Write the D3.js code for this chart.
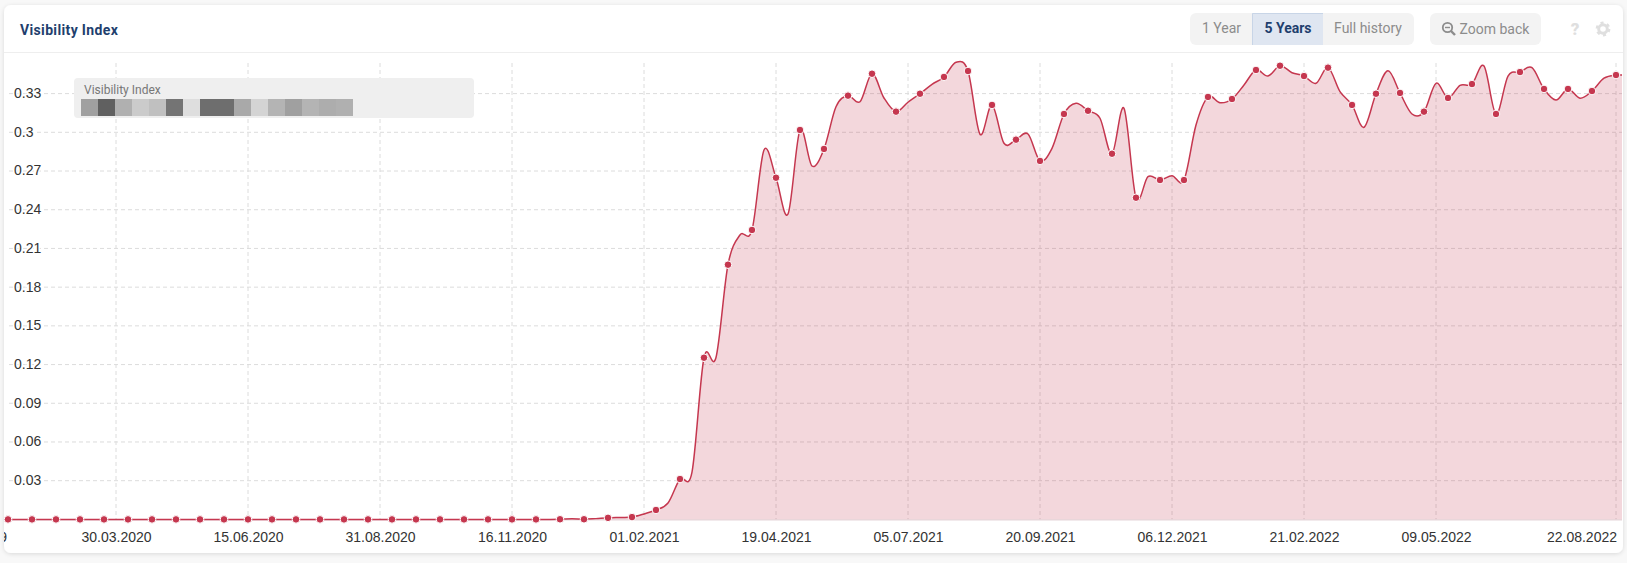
<!DOCTYPE html>
<html>
<head>
<meta charset="utf-8">
<title>Visibility Index</title>
<script src="https://cdn.jsdelivr.net/npm/d3@7"></script>
<style>
    html, body { margin: 0; padding: 0; background: #f8f8f8; overflow: hidden; }
    svg { display: block; }
    .ui { font-family: Roboto, sans-serif; font-size: 14px; }
    .tick text { font-family: "Liberation Sans", Arial, sans-serif; font-size: 14px; fill: #333; }
</style>
</head>
<body>
<svg id="chart"></svg>
<script>
const WIDTH = 1627;
const HEIGHT = 563;

const PLOT_LEFT = 4;
const PLOT_RIGHT = 1622;
const PLOT_TOP = 63;
const PLOT_BOTTOM = 519.4;

const RED = '#c5374f';

// weekly samples, one per Monday, first one is 20.01.2020 and last one 29.08.2022
const firstWeek = new Date(Date.UTC(2020, 0, 20));
const lastWeek = new Date(Date.UTC(2022, 7, 29));

const zeroWeeks = new Array(47).fill(0);
const risingWeeks = [
    0.0001, 0.0006, 0.0001, 0.0006, 0.0012, 0.0015, 0.0018, 0.0042, 0.0073, 0.0127, 0.0313, 0.0367,
    0.1253, 0.1255, 0.1974, 0.2204, 0.2243, 0.2863, 0.2648, 0.2367, 0.3018, 0.2739, 0.2871, 0.3198,
    0.3284, 0.3237, 0.3454, 0.3266, 0.316, 0.3233, 0.3299, 0.3372, 0.3429, 0.3543, 0.3475, 0.2985,
    0.3212, 0.2915, 0.2943, 0.2987, 0.2778, 0.2876, 0.3142, 0.3225, 0.3167, 0.3109, 0.2834, 0.3186,
    0.2493, 0.2656, 0.263, 0.2664, 0.263, 0.3057, 0.3274, 0.3229, 0.3258, 0.3367, 0.3483, 0.3436,
    0.3516, 0.3462, 0.3436, 0.338, 0.3501, 0.3315, 0.3212, 0.3039, 0.3299, 0.3477, 0.3305, 0.3142,
    0.316, 0.338, 0.3266, 0.3364, 0.3374, 0.3514, 0.3142, 0.3436, 0.3467, 0.3501, 0.3336, 0.325,
    0.3336, 0.3264, 0.332, 0.3419, 0.3444, 0.344
];
const visibilityValues = zeroWeeks.concat(risingWeeks);

const yTicks = [0.03, 0.06, 0.09, 0.12, 0.15, 0.18, 0.21, 0.24, 0.27, 0.3, 0.33];
const xTickLabels = [
    '30.12.2019', '30.03.2020', '15.06.2020', '31.08.2020', '16.11.2020', '01.02.2021',
    '19.04.2021', '05.07.2021', '20.09.2021', '06.12.2021', '21.02.2022', '09.05.2022', '22.08.2022'
];

const rangeLabels = ['1 Year', '5 Years', 'Full history'];
const legendPixels = [
    '#a0a0a0', '#606060', '#b0b0b0', '#cbcbcb', '#c0c0c0', '#747474', '#dedede', '#6e6e6e',
    '#6e6e6e', '#a9a9a9', '#d4d4d4', '#b4b4b4', '#a0a0a0', '#b4b4b4', '#adadad', '#b0b0b0'
];

const parseTick = d3.utcParse('%d.%m.%Y');
const formatTick = d3.utcFormat('%d.%m.%Y');

const weeks = d3.utcMonday.range(firstWeek, d3.utcDay.offset(lastWeek, 1));
const series = weeks.map((date, i) => ({ date, value: visibilityValues[i] }));

const xScale = d3.scaleUtc().domain([firstWeek, lastWeek]).range([-4, 1628]);
const yScale = d3.scaleLinear().domain([0, 0.33]).range([PLOT_BOTTOM, 93.6]);

const svg = d3.select('#chart').attr('width', WIDTH).attr('height', HEIGHT);

const defs = svg.append('defs');
defs.append('clipPath').attr('id', 'plot-clip')
    .append('rect')
    .attr('x', PLOT_LEFT)
    .attr('y', 53)
    .attr('width', PLOT_RIGHT - PLOT_LEFT)
    .attr('height', 497);

const shadow = defs.append('filter').attr('id', 'card-shadow')
    .attr('x', '-2%').attr('y', '-5%').attr('width', '104%').attr('height', '110%');
shadow.append('feDropShadow')
    .attr('dx', 0).attr('dy', 1).attr('stdDeviation', 2)
    .attr('flood-color', '#000').attr('flood-opacity', 0.12);

// card and header
svg.append('rect')
    .attr('x', 4).attr('y', 5)
    .attr('width', 1619).attr('height', 548)
    .attr('rx', 7)
    .attr('fill', '#fff')
    .attr('filter', 'url(#card-shadow)');

svg.append('line')
    .attr('x1', 4).attr('x2', 1623)
    .attr('y1', 52.5).attr('y2', 52.5)
    .attr('stroke', '#eeeeee');

svg.append('text')
    .attr('class', 'ui')
    .attr('x', 20).attr('y', 35)
    .attr('font-weight', 700)
    .attr('letter-spacing', 0.35)
    .attr('fill', '#1f3f6e')
    .text('Visibility Index');

// range buttons
svg.append('rect')
    .attr('x', 1190).attr('y', 13)
    .attr('width', 224).attr('height', 32)
    .attr('rx', 6)
    .attr('fill', '#f3f3f3');
svg.append('rect')
    .attr('x', 1252).attr('y', 13)
    .attr('width', 71).attr('height', 32)
    .attr('fill', '#dfe6f1');
svg.append('path')
    .attr('d', 'M1252.5,45V13.5H1323')
    .attr('fill', 'none')
    .attr('stroke', '#c8d5e7');

const rangeCenters = [1221.5, 1288, 1368];
svg.selectAll('.range-label')
    .data(rangeLabels)
    .join('text')
    .attr('class', 'range-label ui')
    .attr('x', (_, i) => rangeCenters[i])
    .attr('y', 33)
    .attr('text-anchor', 'middle')
    .attr('font-weight', d => d === '5 Years' ? 700 : 400)
    .attr('fill', d => d === '5 Years' ? '#1f3f6e' : '#8c8c8c')
    .text(d => d);

// zoom back button
svg.append('rect')
    .attr('x', 1430).attr('y', 13)
    .attr('width', 111).attr('height', 32)
    .attr('rx', 6)
    .attr('fill', '#f3f3f3');
const zoomIcon = svg.append('g').attr('fill', 'none').attr('stroke', '#8c8c8c');
zoomIcon.append('circle').attr('cx', 1447.5).attr('cy', 27.5).attr('r', 4.7).attr('stroke-width', 1.8);
zoomIcon.append('line').attr('x1', 1451).attr('y1', 31).attr('x2', 1455).attr('y2', 35).attr('stroke-width', 2.4);
zoomIcon.append('line').attr('x1', 1445).attr('y1', 27.5).attr('x2', 1450).attr('y2', 27.5).attr('stroke-width', 1.4);
svg.append('text')
    .attr('class', 'ui')
    .attr('x', 1459.5).attr('y', 34)
    .attr('fill', '#8c8c8c')
    .text('Zoom back');

// help and settings icons
svg.append('text')
    .attr('class', 'ui')
    .attr('x', 1575).attr('y', 35)
    .attr('text-anchor', 'middle')
    .attr('font-weight', 900)
    .style('font-size', '17px')
    .attr('fill', '#dfdfdf')
    .text('?');
const gear = svg.append('g').attr('fill', 'none').attr('stroke', '#dfdfdf');
gear.append('circle').attr('cx', 1603).attr('cy', 29).attr('r', 4.3).attr('stroke-width', 3);
gear.append('circle').attr('cx', 1603).attr('cy', 29).attr('r', 6.3)
    .attr('stroke-width', 2.2).attr('stroke-dasharray', '3.1 3.5');

const plot = svg.append('g').attr('clip-path', 'url(#plot-clip)');

// horizontal grid
plot.selectAll('.grid-y')
    .data(yTicks)
    .join('line')
    .attr('class', 'grid-y')
    .attr('x1', 9).attr('x2', PLOT_RIGHT)
    .attr('y1', d => yScale(d)).attr('y2', d => yScale(d))
    .attr('stroke', '#dcdcdc')
    .attr('stroke-dasharray', '4 3');

// vertical grid
plot.selectAll('.grid-x')
    .data(xTickLabels.slice(1))
    .join('line')
    .attr('class', 'grid-x')
    .attr('x1', d => xScale(parseTick(d))).attr('x2', d => xScale(parseTick(d)))
    .attr('y1', PLOT_TOP).attr('y2', PLOT_BOTTOM)
    .attr('stroke', '#dcdcdc')
    .attr('stroke-dasharray', '4 3');

// y axis labels sit inside the plot
const yAxis = d3.axisRight(yScale)
    .tickValues(yTicks)
    .tickSize(0)
    .tickPadding(0)
    .tickFormat(d3.format('.2~f'));
const yAxisGroup = plot.append('g').attr('transform', 'translate(14, 0)').call(yAxis);
yAxisGroup.select('.domain').remove();
yAxisGroup.selectAll('text')
    .attr('dy', '0.28em')
    .attr('stroke', '#fff')
    .attr('stroke-width', 3)
    .attr('paint-order', 'stroke');

// legend
svg.append('rect')
    .attr('x', 74).attr('y', 78)
    .attr('width', 400).attr('height', 40)
    .attr('rx', 4)
    .attr('fill', '#efefef');
svg.append('text')
    .attr('class', 'ui')
    .attr('x', 84).attr('y', 94)
    .style('font-size', '12px')
    .attr('fill', '#777')
    .text('Visibility Index');
const pixelScale = d3.scaleBand().domain(d3.range(legendPixels.length)).range([81, 353]);
svg.selectAll('.legend-pixel')
    .data(legendPixels)
    .join('rect')
    .attr('class', 'legend-pixel')
    .attr('x', (_, i) => pixelScale(i))
    .attr('y', 99)
    .attr('width', pixelScale.bandwidth())
    .attr('height', 17)
    .attr('fill', d => d);

// series
const curve = d3.curveCatmullRom.alpha(0);

const area = d3.area()
    .x(d => xScale(d.date))
    .y0(PLOT_BOTTOM)
    .y1(d => yScale(d.value))
    .curve(curve);

const line = d3.line()
    .x(d => xScale(d.date))
    .y(d => yScale(d.value))
    .curve(curve);

plot.append('path')
    .datum(series)
    .attr('d', area)
    .attr('fill', RED)
    .attr('fill-opacity', 0.2);

plot.append('line')
    .attr('x1', PLOT_LEFT).attr('x2', PLOT_RIGHT)
    .attr('y1', PLOT_BOTTOM + 0.5).attr('y2', PLOT_BOTTOM + 0.5)
    .attr('stroke', '#dfc9ce');

plot.append('path')
    .datum(series)
    .attr('d', line)
    .attr('fill', 'none')
    .attr('stroke', RED)
    .attr('stroke-width', 1.5);

// only every second week has a marker
plot.selectAll('.dot')
    .data(series.filter((_, i) => i % 2 === 1))
    .join('circle')
    .attr('class', 'dot')
    .attr('cx', d => xScale(d.date))
    .attr('cy', d => yScale(d.value))
    .attr('r', 3.8)
    .attr('fill', RED)
    .attr('stroke', '#fff')
    .attr('stroke-width', 1);

// x axis
const xAxis = d3.axisBottom(xScale)
    .tickValues(xTickLabels.map(parseTick))
    .tickSize(0)
    .tickPadding(0)
    .tickFormat(formatTick);
const xAxisGroup = plot.append('g').attr('transform', 'translate(0, 541.5)').call(xAxis);
xAxisGroup.select('.domain').remove();
xAxisGroup.selectAll('text').attr('dy', 0);

// the outer labels are pushed to the edges, like the original does
xAxisGroup.selectAll('.tick').each(function(d) {
    const label = formatTick(d);
    if (label === xTickLabels[0]) {
        d3.select(this).attr('transform', 'translate(7, 0)').select('text').attr('text-anchor', 'end');
    }
    if (label === xTickLabels[xTickLabels.length - 1]) {
        d3.select(this).attr('transform', 'translate(1617, 0)').select('text').attr('text-anchor', 'end');
    }
});
</script>
</body>
</html>
